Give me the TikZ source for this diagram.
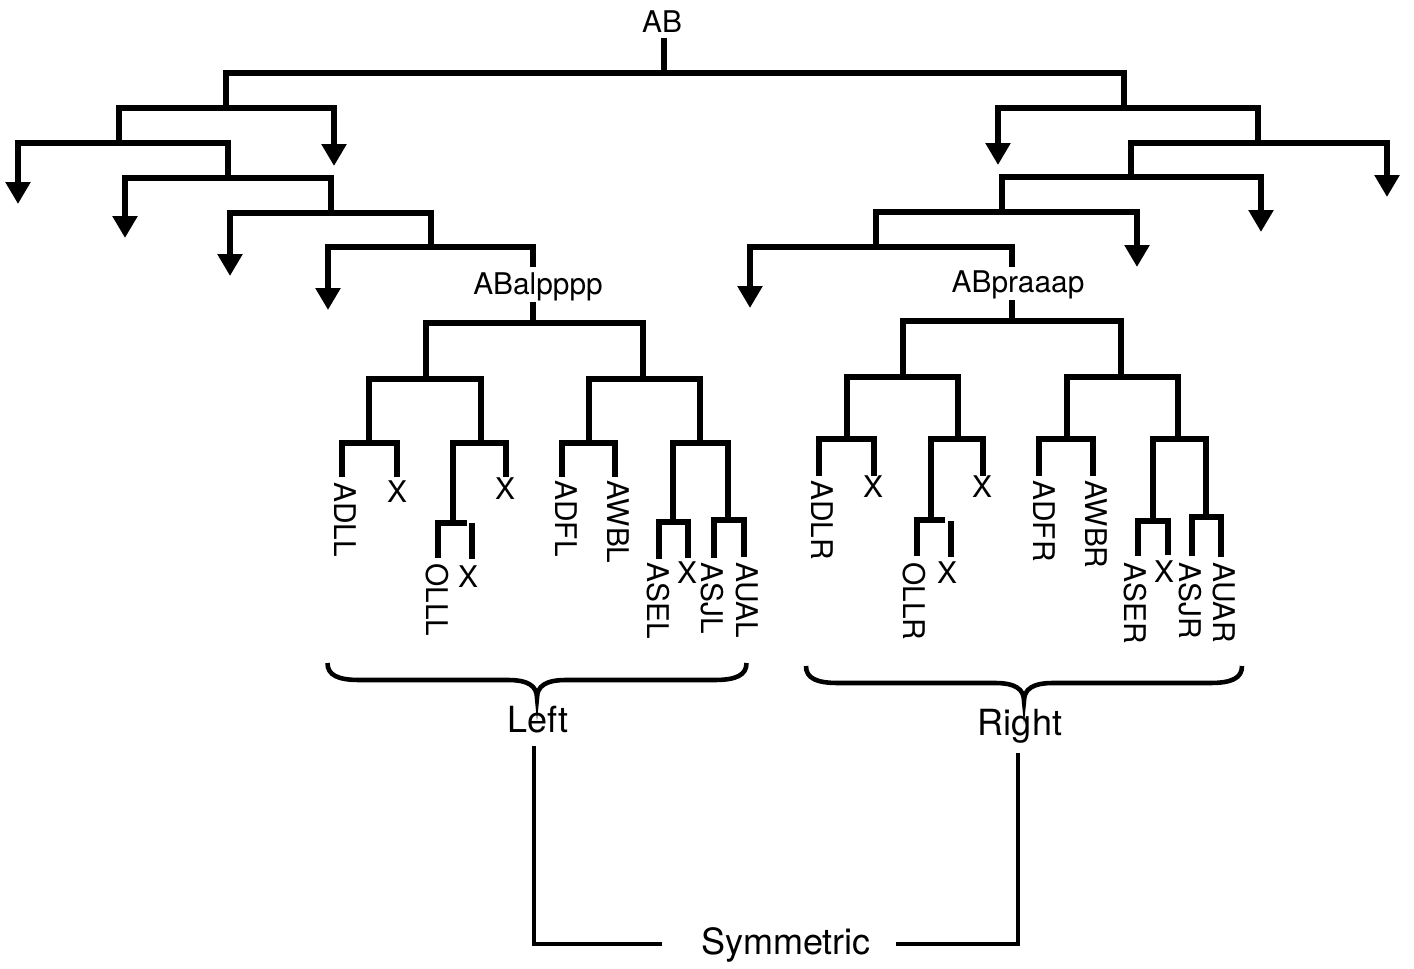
\documentclass[tikz,border=0pt]{standalone}
\usepackage{fontspec}
\setmainfont{TeX Gyre Heros}
\usetikzlibrary{arrows.meta}
\newcommand\treefont{\fontsize{17}{20}\selectfont}
\newcommand\groupfont{\fontsize{20.5}{24}\selectfont}
\tikzset{
  tree/.style={line width=3.1pt},
  twig/.style={line width=3.6pt},
  link/.style={line width=2.3pt},
  leaf/.style={rotate=-90,anchor=west,inner sep=0pt,font=\treefont},
  tag/.style={inner sep=0pt,font=\treefont},
  group/.style={inner sep=0pt,font=\groupfont},
  bracestyle/.style={line width=2.6pt},
  pics/curly/.style={code={
    \draw[bracestyle] (-#1,-35) .. controls (-#1,-23) and (-#1+10,-18) .. (-#1+32,-18)
      -- (-29,-18) .. controls (-9,-18) and (0,-12) .. (0,0)
      .. controls (0,-12) and (9,-18) .. (29,-18)
      -- (#1-32,-18) .. controls (#1-10,-18) and (#1,-23) .. (#1,-35);
  }},
}
\begin{document}
\begin{tikzpicture}[x=0.02cm,y=-0.02cm,>={Triangle[width=0.48cm,length=0.44cm]}]
\useasboundingbox (0,0) rectangle (1414,969);

% ---------- upper tree ----------
\node[tag,anchor=base] (AB) at (662,33) {AB};
\coordinate (ABfoot) at (664,38);
\coordinate (root) at (664,73);

\coordinate (A1) at (226,108);
\coordinate (A2) at (119,143);
\coordinate (A3) at (228,178);
\coordinate (A4) at (331,213);
\coordinate (A5) at (431,247);
\coordinate (a1) at (334,166);
\coordinate (a2) at (18,204);
\coordinate (a3) at (125,238);
\coordinate (a4) at (230,276);
\coordinate (a5) at (328,310);

\coordinate (B1) at (1124,108);
\coordinate (B2) at (1258,143);
\coordinate (B3) at (1131,177);
\coordinate (B4) at (1002,212);
\coordinate (B5) at (876,247);
\coordinate (b1) at (998,165);
\coordinate (b2) at (1387,197);
\coordinate (b3) at (1261,232);
\coordinate (b4) at (1137,267);
\coordinate (b5) at (750,308);

\coordinate (Ltop) at (533,267);
\coordinate (Lbot) at (533,302);
\coordinate (Rtop) at (1012,267);
\coordinate (Rbot) at (1012,300);

\draw[tree] (ABfoot) -- (root);
\draw[tree] (A1) |- (root) -| (B1);

\draw[tree,->] (A2) |- (A1) -| (a1);
\draw[tree,<-] (a2) |- (A2) -| (A3);
\draw[tree,<-] (a3) |- (A3) -| (A4);
\draw[tree,<-] (a4) |- (A4) -| (A5);
\draw[tree,<-] (a5) |- (A5) -| (Ltop);

\draw[tree,<-] (b1) |- (B1) -| (B2);
\draw[tree,->] (B3) |- (B2) -| (b2);
\draw[tree,->] (B4) |- (B3) -| (b3);
\draw[tree,->] (B5) |- (B4) -| (b4);
\draw[tree,<-] (b5) |- (B5) -| (Rtop);

\node[tag,anchor=base] (ABl) at (538,295) {ABalpppp};
\node[tag,anchor=base] (ABr) at (1018,293) {ABpraaap};

% ---------- left subtree ----------
\coordinate (lF) at (533,323);
\coordinate (lG) at (426,379);
\coordinate (lH) at (643,379);
\coordinate (lI) at (369,443);
\coordinate (lJ) at (481,443);
\coordinate (lK) at (453,523);
\coordinate (lL) at (589,443);
\coordinate (lM) at (700,443);
\coordinate (lN) at (673,522);
\coordinate (lO) at (728,520);

\coordinate (lADLL) at (342,477);
\coordinate (lX1) at (397,477);
\coordinate (lX2) at (506,477);
\coordinate (lOLLL) at (438,558);
\coordinate (lKend) at (467,523);
\coordinate (lX3top) at (472,523);
\coordinate (lX3) at (472,559);
\coordinate (lADFL) at (562,477);
\coordinate (lAWBL) at (615,477);
\coordinate (lASEL) at (659,559);
\coordinate (lX4) at (688,558);
\coordinate (lASJL) at (714,558);
\coordinate (lAUAL) at (744,557);

\draw[tree] (Lbot) -- (lF);
\draw[tree] (lG) |- (lF) -| (lH);
\draw[tree] (lI) |- (lG) -| (lJ);
\draw[tree] (lL) |- (lH) -| (lM);
\draw[tree] (lADLL) |- (lI) -| (lX1);
\draw[tree] (lK) |- (lJ) -| (lX2);
\draw[twig] (lOLLL) |- (lK) -- (lKend);
\draw[twig] (lX3top) -- (lX3);
\draw[tree] (lADFL) |- (lL) -| (lAWBL);
\draw[tree] (lN) |- (lM) -| (lO);
\draw[twig] (lASEL) |- (lN) -| (lX4);
\draw[twig] (lASJL) |- (lO) -| (lAUAL);

\node[leaf] (tADLL) at (345,482) {ADLL};
\node[tag] (tX1) at (397,492) {X};
\node[tag] (tX2) at (505,489) {X};
\node[leaf] (tOLLL) at (437,563) {OLLL};
\node[tag] (tX3) at (468,577) {X};
\node[leaf] (tADFL) at (566,480) {ADFL};
\node[leaf] (tAWBL) at (618,480) {AWBL};
\node[leaf] (tASEL) at (658,562) {ASEL};
\node[tag] (tX4) at (687,573) {X};
\node[leaf] (tASJL) at (712,562) {ASJL};
\node[leaf] (tAUAL) at (747,562) {AUAL};

% ---------- right subtree ----------
\coordinate (rF) at (1012,321);
\coordinate (rG) at (903,377);
\coordinate (rH) at (1121,377);
\coordinate (rI) at (847,439);
\coordinate (rJ) at (958,439);
\coordinate (rK) at (931,520);
\coordinate (rL) at (1067,439);
\coordinate (rM) at (1178,439);
\coordinate (rN) at (1153,521);
\coordinate (rO) at (1206,517);

\coordinate (rADLR) at (819,476);
\coordinate (rX1) at (874,476);
\coordinate (rX2) at (983,476);
\coordinate (rOLLR) at (917,556);
\coordinate (rKend) at (945,520);
\coordinate (rX3top) at (951,521);
\coordinate (rX3) at (951,557);
\coordinate (rADFR) at (1039,476);
\coordinate (rAWBR) at (1093,476);
\coordinate (rASER) at (1138,556);
\coordinate (rX4) at (1168,555);
\coordinate (rASJR) at (1192,556);
\coordinate (rAUAR) at (1221,557);

\draw[tree] (Rbot) -- (rF);
\draw[tree] (rG) |- (rF) -| (rH);
\draw[tree] (rI) |- (rG) -| (rJ);
\draw[tree] (rL) |- (rH) -| (rM);
\draw[tree] (rADLR) |- (rI) -| (rX1);
\draw[tree] (rK) |- (rJ) -| (rX2);
\draw[twig] (rOLLR) |- (rK) -- (rKend);
\draw[twig] (rX3top) -- (rX3);
\draw[tree] (rADFR) |- (rL) -| (rAWBR);
\draw[tree] (rN) |- (rM) -| (rO);
\draw[twig] (rASER) |- (rN) -| (rX4);
\draw[twig] (rASJR) |- (rO) -| (rAUAR);

\node[leaf] (tADLR) at (822,480) {ADLR};
\node[tag] (tX5) at (873,487) {X};
\node[tag] (tX6) at (982,487) {X};
\node[leaf] (tOLLR) at (914,562) {OLLR};
\node[tag] (tX7) at (947,573) {X};
\node[leaf] (tADFR) at (1044,480) {ADFR};
\node[leaf] (tAWBR) at (1096,480) {AWBR};
\node[leaf] (tASER) at (1135,562) {ASER};
\node[tag] (tX8) at (1164,572) {X};
\node[leaf] (tASJR) at (1190,562) {ASJR};
\node[leaf] (tAUAR) at (1224,562) {AUAR};

% ---------- groups ----------
\pic at (537,698) {curly=209.5};
\pic at (1024,701) {curly=218};

\node[group,anchor=base] (left) at (538,732) {Left};
\node[group,anchor=base] (right) at (1020,735) {Right};
\node[group,anchor=base] (sym) at (786,954) {Symmetric};

\coordinate (lt) at (534,746);
\coordinate (ls) at (662,944);
\coordinate (rt) at (1018,753);
\coordinate (rs) at (896,944);
\draw[link] (lt) |- (ls);
\draw[link] (rt) |- (rs);
\end{tikzpicture}
\end{document}
